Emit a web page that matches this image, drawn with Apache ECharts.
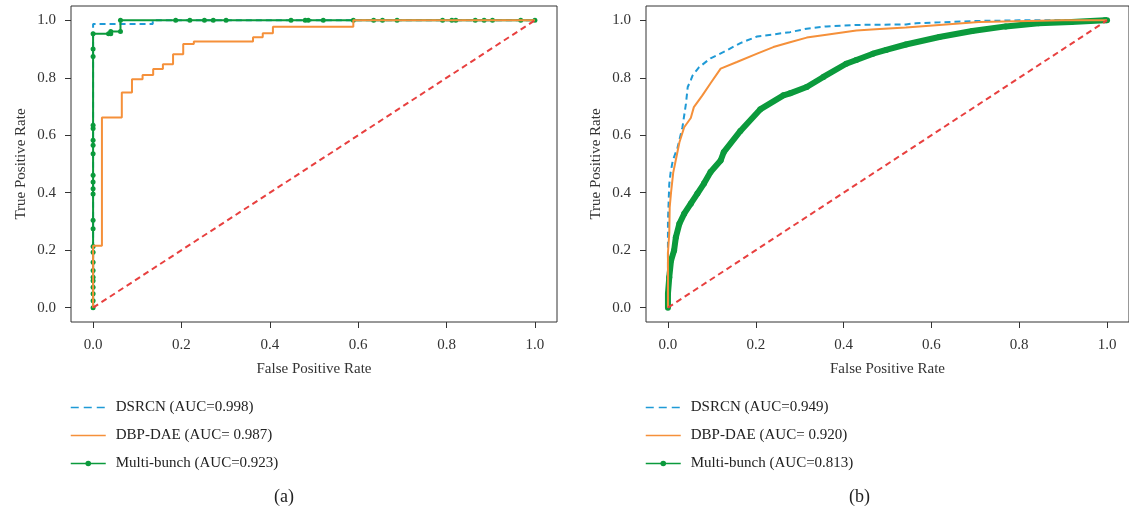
<!DOCTYPE html>
<html><head><meta charset="utf-8">
<script src="https://cdn.jsdelivr.net/npm/echarts@6/dist/echarts.min.js"></script>
<style>html,body{margin:0;padding:0;background:#fff}#c{width:1129px;height:508px}</style>
</head><body><div id="c"></div>
<script>
// ---- data ----
const tickValues = [0, 0.2, 0.4, 0.6, 0.8, 1.0];
const namesA = ['DSRCN (AUC=0.998)', 'DBP-DAE (AUC= 0.987)', 'Multi-bunch (AUC=0.923)'];
const namesB = ['DSRCN (AUC=0.949)', 'DBP-DAE (AUC= 0.920)', 'Multi-bunch (AUC=0.813)'];
const chanceLine = [[0, 0], [1, 1]];

const dsrcnA = [[0,0],[0,0.987],[0.135,0.987],[0.135,1],[1,1]];
const dbpA = [[0,0],[0,0.215],[0.02,0.215],[0.02,0.662],[0.065,0.662],[0.065,0.749],[0.088,0.749],[0.088,0.795],
  [0.112,0.795],[0.112,0.81],[0.136,0.81],[0.136,0.831],[0.158,0.831],[0.158,0.847],[0.181,0.847],[0.181,0.882],
  [0.204,0.882],[0.204,0.918],[0.228,0.918],[0.228,0.926],[0.362,0.926],[0.362,0.941],[0.384,0.941],[0.384,0.955],
  [0.407,0.955],[0.407,0.978],[0.589,0.978],[0.589,1],[1,1]];
const multiA = [[0,0],[0,0.024],[0,0.048],[0,0.071],[0,0.094],[0,0.106],[0,0.129],[0,0.158],[0,0.193],[0,0.213],
  [0,0.275],[0,0.304],[0,0.396],[0,0.414],[0,0.437],[0,0.461],[0,0.536],[0,0.565],[0,0.583],[0,0.624],[0,0.635],
  [0,0.874],[0,0.9],[0,0.953],[0.035,0.953],[0.04,0.953],[0.04,0.961],[0.062,0.961],[0.062,1],
  [0.187,1],[0.219,1],[0.252,1],[0.272,1],[0.301,1],[0.448,1],[0.48,1],[0.487,1],[0.521,1],[0.589,1],[0.635,1],
  [0.655,1],[0.688,1],[0.791,1],[0.812,1],[0.821,1],[0.865,1],[0.885,1],[0.904,1],[0.968,1],[1,1]];

const dsrcnB = [[0,0],[0,0.19],[0,0.3],[0.003,0.43],[0.006,0.47],[0.011,0.512],[0.022,0.558],[0.033,0.628],
  [0.041,0.71],[0.045,0.768],[0.052,0.792],[0.056,0.808],[0.071,0.837],[0.097,0.868],[0.127,0.89],[0.165,0.921],
  [0.203,0.944],[0.24,0.951],[0.278,0.959],[0.316,0.971],[0.361,0.979],[0.429,0.984],[0.542,0.986],[0.565,0.99],
  [0.618,0.993],[0.708,0.998],[0.8,1],[1,1]];
const dbpB = [[0,0],[0,0.11],[0,0.19],[0.003,0.19],[0.003,0.26],[0.004,0.35],[0.007,0.4],[0.012,0.47],[0.018,0.515],
  [0.026,0.575],[0.037,0.628],[0.052,0.66],[0.059,0.698],[0.078,0.738],[0.097,0.781],[0.12,0.832],[0.157,0.855],
  [0.203,0.884],[0.24,0.907],[0.278,0.924],[0.316,0.94],[0.361,0.95],[0.429,0.965],[0.482,0.97],[0.542,0.975],
  [0.618,0.984],[0.708,0.994],[0.821,0.998],[0.9,1],[1,1]];
const multiB = [[0,0],[0,0.048],[0.003,0.106],[0.007,0.164],[0.014,0.199],[0.018,0.245],[0.026,0.292],[0.037,0.327],
  [0.052,0.362],[0.067,0.397],[0.082,0.432],[0.097,0.472],[0.12,0.512],[0.127,0.541],[0.165,0.615],[0.21,0.69],
  [0.263,0.739],[0.278,0.746],[0.316,0.768],[0.354,0.803],[0.406,0.849],[0.429,0.862],[0.467,0.884],[0.497,0.897],
  [0.542,0.916],[0.618,0.942],[0.693,0.963],[0.769,0.979],[0.844,0.99],[0.919,0.994],[0.995,1],[1,1]];

// ---- styling ----
const FONT = 'Liberation Serif';
const TXT = '#333';
const C_BLUE = '#1f9ad6', C_ORANGE = '#f5903a', C_GREEN = '#0b9a3c', C_RED = '#e8403f';

function xAxisFor(gi) {
  return {
    type: 'value', gridIndex: gi, min: -0.05, max: 1.05,
    name: 'False Positive Rate', nameLocation: 'middle', nameGap: 40,
    nameTextStyle: { fontFamily: FONT, fontSize: 15, color: TXT },
    axisLine: { show: false, onZero: false },
    axisTick: { show: true, inside: false, length: 6, lineStyle: { color: '#333' }, customValues: tickValues },
    axisLabel: { fontFamily: FONT, fontSize: 15, color: TXT, margin: 16, customValues: tickValues,
      formatter: v => v.toFixed(1) },
    splitLine: { show: false }
  };
}
function yAxisFor(gi) {
  return {
    type: 'value', gridIndex: gi, min: -0.05, max: 1.05,
    name: 'True Positive Rate', nameLocation: 'middle', nameGap: 42, nameRotate: 90,
    nameTextStyle: { fontFamily: FONT, fontSize: 15, color: TXT },
    axisLine: { show: false, onZero: false },
    axisTick: { show: true, inside: false, length: 6, lineStyle: { color: '#333' }, customValues: tickValues },
    axisLabel: { fontFamily: FONT, fontSize: 15, color: TXT, margin: 15, customValues: tickValues,
      formatter: v => v.toFixed(1) },
    splitLine: { show: false }
  };
}
function seriesFor(gi, names, d1, d2, d3, greenWidth, greenSym) {
  return [
    { name: 'chance', type: 'line', xAxisIndex: gi, yAxisIndex: gi, data: chanceLine, symbol: 'none',
      lineStyle: { color: C_RED, width: 2, type: [6, 4] }, z: 5 },
    { name: names[2], type: 'line', xAxisIndex: gi, yAxisIndex: gi, data: d3, symbol: 'circle',
      symbolSize: greenSym, showSymbol: true, itemStyle: { color: C_GREEN },
      lineStyle: { color: C_GREEN, width: greenWidth }, z: 2 },
    { name: names[1], type: 'line', xAxisIndex: gi, yAxisIndex: gi, data: d2, symbol: 'none',
      itemStyle: { color: C_ORANGE }, lineStyle: { color: C_ORANGE, width: 2 }, z: 3 },
    { name: names[0], type: 'line', xAxisIndex: gi, yAxisIndex: gi, data: d1, symbol: 'none',
      itemStyle: { color: C_BLUE }, lineStyle: { color: C_BLUE, width: 2, type: [6, 4] }, z: 1 }
  ];
}
function legendFor(left, names) {
  return {
    orient: 'vertical', left: left, top: 395, itemGap: 13, itemWidth: 35, itemHeight: 7,
    textStyle: { fontFamily: FONT, fontSize: 15, color: '#222', padding: [0, 0, 0, 5] },
    data: [
      { name: names[0], itemStyle: { opacity: 0 }, lineStyle: { width: 1.5, type: [8, 5] } },
      { name: names[1], itemStyle: { opacity: 0 }, lineStyle: { width: 1.5 } },
      { name: names[2], lineStyle: { width: 1.5 } }
    ],
    selectedMode: false
  };
}

const chart = echarts.init(document.getElementById('c'), null, { renderer: 'canvas' });
chart.setOption({
  animation: false,
  backgroundColor: '#fff',
  grid: [
    { left: 71, top: 6, width: 486, height: 316, show: true, borderColor: '#333', borderWidth: 1, containLabel: false },
    { left: 646, top: 6, width: 487, height: 316, show: true, borderColor: '#333', borderWidth: 1, containLabel: false }
  ],
  xAxis: [xAxisFor(0), xAxisFor(1)],
  yAxis: [yAxisFor(0), yAxisFor(1)],
  legend: [legendFor(65, namesA), legendFor(640, namesB)],
  series: [].concat(seriesFor(0, namesA, dsrcnA, dbpA, multiA, 2, 5),
                    seriesFor(1, namesB, dsrcnB, dbpB, multiB, 6, 6)),
  graphic: [
    { type: 'text', left: 274, top: 488, style: { text: '(a)', fontFamily: FONT, fontSize: 18, fill: '#222' } },
    { type: 'text', left: 849, top: 488, style: { text: '(b)', fontFamily: FONT, fontSize: 18, fill: '#222' } }
  ]
});
</script></body></html>
